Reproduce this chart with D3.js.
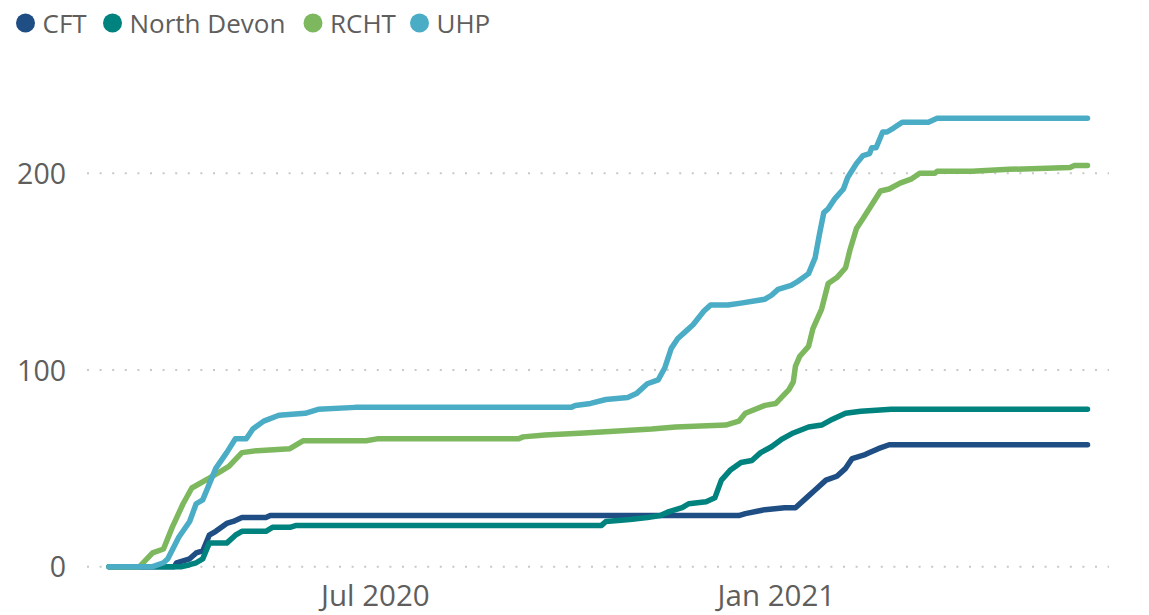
<!DOCTYPE html>
<html>
<head>
<meta charset="utf-8">
<script src="https://cdn.jsdelivr.net/npm/d3@7"></script>
<style>
  body { margin: 0; background: #fff; }
  svg { display: block; font-family: "Open Sans", "Noto Sans", sans-serif; }
  .tick text { fill: #605e5c; }
</style>
</head>
<body>
<div id="graphic"></div>
<script>
// series names + colours (legend order = draw order)
const seriesNames = ["CFT", "North Devon", "RCHT", "UHP"];
const seriesColors = ["#1f4e84", "#00827e", "#7db85f", "#4bacc6"];

// cumulative counts
const cft = [
  ["2020-03-01",0],["2020-03-31",0],["2020-04-01",2],["2020-04-07",4],["2020-04-10",7],["2020-04-13",8],
  ["2020-04-16",16],["2020-04-19",18],["2020-04-24",22],["2020-04-27",23],["2020-05-01",25],["2020-05-12",25],
  ["2020-05-14",26],["2020-12-15",26],["2020-12-18",27],["2020-12-27",29],["2021-01-05",30],["2021-01-10",30],
  ["2021-01-15",35],["2021-01-19",39],["2021-01-24",44],["2021-01-29",46],["2021-02-02",50],["2021-02-05",55],
  ["2021-02-08",56],["2021-02-11",57],["2021-02-13",58],["2021-02-17",60],["2021-02-22",62],["2021-05-24",62]
];
const northDevon = [
  ["2020-03-01",0],["2020-04-03",0],["2020-04-07",1],["2020-04-10",2],["2020-04-13",4],["2020-04-16",12],
  ["2020-04-24",12],["2020-04-28",16],["2020-05-01",18],["2020-05-12",18],["2020-05-15",20],["2020-05-23",20],
  ["2020-05-26",21],["2020-10-13",21],["2020-10-15",23],["2020-10-26",24],["2020-11-03",25],["2020-11-09",26],
  ["2020-11-13",28],["2020-11-19",30],["2020-11-22",32],["2020-11-30",33],["2020-12-04",35],["2020-12-07",44],
  ["2020-12-11",49],["2020-12-16",53],["2020-12-21",54],["2020-12-25",58],["2020-12-30",61],["2021-01-04",65],
  ["2021-01-09",68],["2021-01-16",71],["2021-01-22",72],["2021-01-27",75],["2021-02-02",78],["2021-02-09",79],
  ["2021-02-23",80],["2021-05-24",80]
];
const rcht = [
  ["2020-03-01",0],["2020-03-15",0],["2020-03-21",7],["2020-03-26",9],["2020-03-30",20],["2020-04-04",32],
  ["2020-04-08",40],["2020-04-16",45],["2020-04-22",49],["2020-04-25",51],["2020-05-01",58],["2020-05-08",59],
  ["2020-05-23",60],["2020-05-29",64],["2020-06-27",64],["2020-07-02",65],["2020-09-05",65],["2020-09-07",66],
  ["2020-09-17",67],["2020-10-05",68],["2020-11-05",70],["2020-11-16",71],["2020-12-09",72],["2020-12-15",74],
  ["2020-12-18",78],["2020-12-27",82],["2021-01-01",83],["2021-01-07",90],["2021-01-09",94],["2021-01-10",102],
  ["2021-01-12",107],["2021-01-16",112],["2021-01-18",121],["2021-01-22",131],["2021-01-25",144],["2021-01-29",147],
  ["2021-02-02",152],["2021-02-04",161],["2021-02-07",172],["2021-02-10",177],["2021-02-14",184],["2021-02-18",191],
  ["2021-02-22",192],["2021-02-27",195],["2021-03-04",197],["2021-03-08",200],["2021-03-15",200],["2021-03-16",201],
  ["2021-04-01",201],["2021-04-18",202],["2021-05-16",203],["2021-05-18",204],["2021-05-24",204]
];
const uhp = [
  ["2020-03-01",0],["2020-03-21",0],["2020-03-26",2],["2020-03-28",4],["2020-04-02",15],["2020-04-07",23],
  ["2020-04-10",32],["2020-04-13",34],["2020-04-16",42],["2020-04-19",50],["2020-04-24",58],["2020-04-28",65],
  ["2020-05-03",65],["2020-05-06",70],["2020-05-11",74],["2020-05-18",77],["2020-05-30",78],["2020-06-05",80],
  ["2020-06-22",81],["2020-09-29",81],["2020-10-01",82],["2020-10-08",83],["2020-10-15",85],["2020-10-25",86],
  ["2020-10-29",88],["2020-11-03",93],["2020-11-08",95],["2020-11-11",101],["2020-11-14",111],["2020-11-17",116],
  ["2020-11-20",119],["2020-11-24",123],["2020-11-29",130],["2020-12-02",133],["2020-12-10",133],["2020-12-16",134],
  ["2020-12-27",136],["2020-12-30",138],["2021-01-02",141],["2021-01-05",142],["2021-01-08",143],["2021-01-11",145],
  ["2021-01-16",149],["2021-01-19",157],["2021-01-21",169],["2021-01-23",180],["2021-01-25",182],["2021-01-28",187],
  ["2021-02-01",192],["2021-02-03",198],["2021-02-07",205],["2021-02-10",209],["2021-02-13",210],["2021-02-14",213],
  ["2021-02-16",213],["2021-02-19",221],["2021-02-21",221],["2021-02-24",223],["2021-02-28",226],["2021-03-12",226],
  ["2021-03-16",228],["2021-05-24",228]
];

// axis ticks
const xTicks = ["2020-07-01", "2021-01-01"];
const yTicks = [0, 100, 200];

const parseDate = d3.timeParse("%Y-%m-%d");
const allSeries = [cft, northDevon, rcht, uhp].map(function(s, i){
  return {
    name: seriesNames[i],
    color: seriesColors[i],
    values: s.map(d => ({ date: parseDate(d[0]), value: +d[1] }))
  };
});

const width = 1149, height = 615;
const gridLeft = 87, gridRight = 1109;

const svg = d3.select("#graphic")
  .append("svg")
  .attr("width", width)
  .attr("height", height);

const xScale = d3.scaleTime()
  .domain([parseDate("2020-03-01"), parseDate("2021-05-24")])
  .range([109, 1087.5]);

const yScale = d3.scaleLinear()
  .domain([0, 200])
  .range([566.7, 173.3]);

// dotted grid lines
svg.append("g")
  .attr("class", "grid")
  .selectAll("line")
  .data(yTicks)
  .enter().append("line")
    .attr("x1", gridLeft)
    .attr("x2", gridRight)
    .attr("y1", d => yScale(d))
    .attr("y2", d => yScale(d))
    .attr("stroke", "#c8c8c8")
    .attr("stroke-width", 2)
    .attr("stroke-dasharray", "2 10.6");

// y axis labels
const yAxis = d3.axisLeft(yScale)
  .tickValues(yTicks)
  .tickSize(0)
  .tickPadding(0);

svg.append("g")
  .attr("class", "axis yaxis")
  .attr("transform", "translate(66,0)")
  .call(yAxis)
  .call(g => g.select(".domain").remove())
  .selectAll("text")
    .attr("font-size", 28.5)
    .attr("font-family", "Open Sans")
    .attr("dy", "0.36em");

// x axis labels
const xAxis = d3.axisBottom(xScale)
  .tickValues(xTicks.map(parseDate))
  .tickFormat(d3.timeFormat("%b %Y"))
  .tickSize(0)
  .tickPadding(0);

svg.append("g")
  .attr("class", "axis xaxis")
  .attr("transform", "translate(0,606)")
  .call(xAxis)
  .call(g => g.select(".domain").remove())
  .selectAll("text")
    .attr("font-size", 29.5)
    .attr("font-family", "Open Sans")
    .attr("dy", 0);

// lines
const line = d3.line()
  .x(d => xScale(d.date))
  .y(d => yScale(d.value));

svg.append("g")
  .selectAll("path")
  .data(allSeries)
  .enter().append("path")
    .attr("fill", "none")
    .attr("stroke", d => d.color)
    .attr("stroke-width", 5.5)
    .attr("stroke-linecap", "round")
    .attr("stroke-linejoin", "round")
    .attr("d", d => line(d.values));

// legend
const legendX = [25.5, 112.5, 313, 419.5];
const legend = svg.append("g")
  .attr("class", "legend")
  .selectAll("g")
  .data(allSeries)
  .enter().append("g")
    .attr("transform", (d, i) => `translate(${legendX[i]},23)`);

legend.append("circle")
  .attr("r", 9.5)
  .attr("fill", d => d.color);

legend.append("text")
  .attr("x", 17)
  .attr("y", 10)
  .attr("font-size", 26)
  .attr("fill", "#605e5c")
  .text(d => d.name);
</script>
</body>
</html>
